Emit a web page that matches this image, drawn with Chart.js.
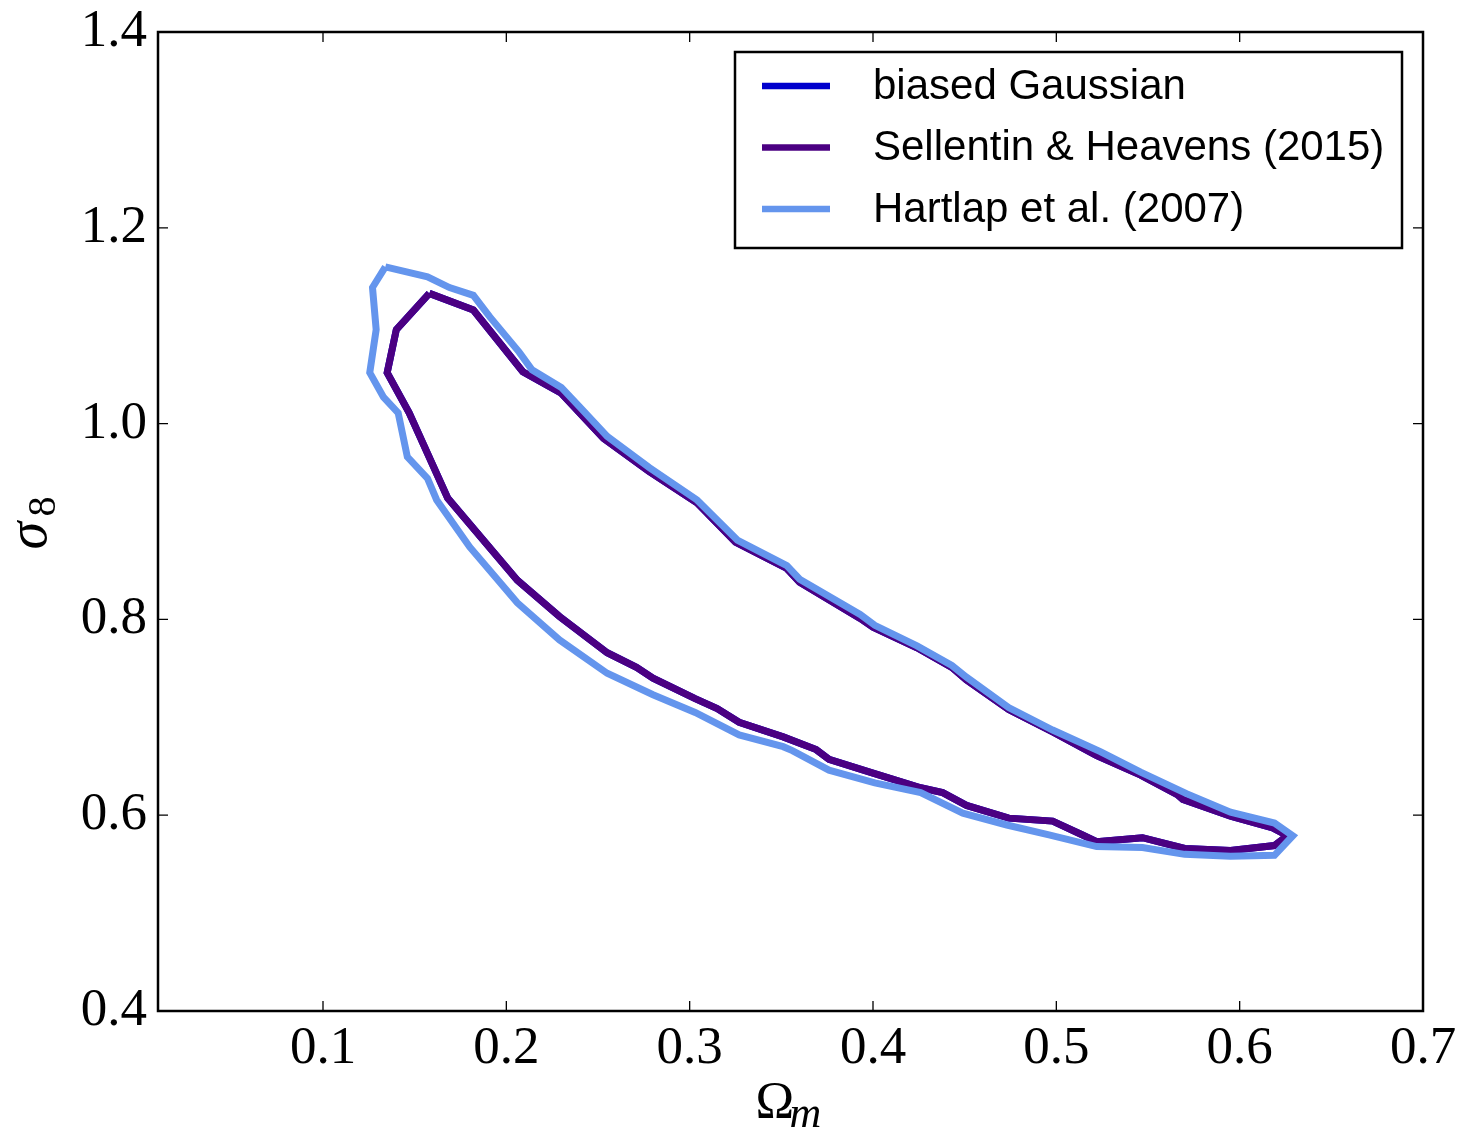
<!DOCTYPE html>
<html>
<head>
<meta charset="utf-8">
<script src="https://cdn.jsdelivr.net/npm/chart.js@4.4.0/dist/chart.umd.min.js"></script>
<style>
  body { margin: 0; background: #fff; }
</style>
</head>
<body>
<canvas id="contourChart" width="1462" height="1132"></canvas>
<script>
// tick positions
const xTicks = [0.1, 0.2, 0.3, 0.4, 0.5, 0.6, 0.7];
const yTicks = [0.4, 0.6, 0.8, 1.0, 1.2, 1.4];

// Sellentin & Heavens (2015) contour
const sellentinX = [0.158, 0.182, 0.209, 0.230, 0.253, 0.278, 0.304, 0.325, 0.353, 0.360,
    0.393, 0.400, 0.424, 0.443, 0.451, 0.474, 0.498, 0.518, 0.522, 0.546,
    0.566, 0.569, 0.595, 0.618, 0.626, 0.619, 0.595, 0.570, 0.547, 0.522,
    0.514, 0.498, 0.474, 0.451, 0.438, 0.426, 0.400, 0.376, 0.369, 0.351,
    0.327, 0.315, 0.303, 0.280, 0.271, 0.255, 0.229, 0.206, 0.168, 0.147,
    0.135, 0.140, 0.158];
const sellentinY = [1.133, 1.116, 1.053, 1.031, 0.985, 0.951, 0.919, 0.879, 0.852, 0.838,
    0.801, 0.792, 0.771, 0.751, 0.738, 0.708, 0.685, 0.665, 0.661, 0.641,
    0.621, 0.616, 0.599, 0.587, 0.579, 0.569, 0.564, 0.566, 0.577, 0.573,
    0.580, 0.594, 0.597, 0.610, 0.623, 0.628, 0.643, 0.657, 0.667, 0.680,
    0.695, 0.709, 0.719, 0.740, 0.751, 0.766, 0.803, 0.840, 0.924, 1.011,
    1.052, 1.096, 1.133];

// biased Gaussian sits exactly under the Sellentin & Heavens line
const gaussX = sellentinX.slice();
const gaussY = sellentinY.slice();

// Hartlap et al. (2007) contour
const hartlapX = [0.134, 0.157, 0.169, 0.182, 0.191, 0.207, 0.214, 0.230, 0.240, 0.255,
    0.278, 0.304, 0.326, 0.353, 0.360, 0.393, 0.401, 0.424, 0.443, 0.451,
    0.474, 0.498, 0.524, 0.546, 0.571, 0.595, 0.619, 0.629, 0.619, 0.595,
    0.570, 0.547, 0.522, 0.496, 0.473, 0.449, 0.426, 0.401, 0.376, 0.356,
    0.351, 0.327, 0.303, 0.280, 0.255, 0.229, 0.206, 0.180, 0.162, 0.157,
    0.146, 0.141, 0.133, 0.1255, 0.129, 0.127, 0.134];
const hartlapY = [1.160, 1.150, 1.139, 1.131, 1.109, 1.073, 1.055, 1.037, 1.017, 0.987,
    0.955, 0.922, 0.881, 0.855, 0.841, 0.805, 0.794, 0.773, 0.753, 0.741,
    0.710, 0.687, 0.665, 0.644, 0.622, 0.603, 0.592, 0.579, 0.559, 0.558,
    0.560, 0.567, 0.568, 0.580, 0.590, 0.602, 0.623, 0.633, 0.646, 0.666,
    0.670, 0.682, 0.705, 0.723, 0.745, 0.779, 0.817, 0.874, 0.922, 0.944,
    0.966, 1.011, 1.027, 1.052, 1.096, 1.139, 1.160];

const labels = ['biased Gaussian', 'Sellentin & Heavens (2015)', 'Hartlap et al. (2007)'];
const colors = ['#0000cd', '#4b0082', '#6495ed'];

function toPoints(xs, ys) {
    return xs.map((x, i) => ({ x: x, y: ys[i] }));
}

const frameAndLegend = {
    id: 'frameAndLegend',
    afterDatasetsDraw(chart) {
        const ctx = chart.ctx;
        const a = chart.chartArea;
        const xs = chart.scales.x;
        const ys = chart.scales.y;
        ctx.save();

        // inward ticks on all four sides
        ctx.strokeStyle = '#000';
        ctx.lineWidth = 1.3;
        ctx.beginPath();
        xTicks.forEach(v => {
            const px = xs.getPixelForValue(v);
            ctx.moveTo(px, a.bottom); ctx.lineTo(px, a.bottom - 10);
            ctx.moveTo(px, a.top); ctx.lineTo(px, a.top + 10);
        });
        yTicks.forEach(v => {
            const py = ys.getPixelForValue(v);
            ctx.moveTo(a.left, py); ctx.lineTo(a.left + 10, py);
            ctx.moveTo(a.right, py); ctx.lineTo(a.right - 10, py);
        });
        ctx.stroke();

        ctx.lineWidth = 2.5;
        ctx.strokeRect(a.left, a.top, a.right - a.left, a.bottom - a.top);

        // legend box
        const bx = a.right - 21 - 667, by = a.top + 20;
        ctx.fillStyle = '#fff';
        ctx.fillRect(bx, by, 667, 196);
        ctx.strokeRect(bx, by, 667, 196);
        ctx.font = '42px "Liberation Sans", Arial, sans-serif';
        ctx.textBaseline = 'middle';
        labels.forEach((lab, i) => {
            const ly = by + 34 + i * 61.5;
            ctx.strokeStyle = colors[i];
            ctx.lineWidth = 6.5;
            ctx.beginPath();
            ctx.moveTo(bx + 27, ly);
            ctx.lineTo(bx + 95, ly);
            ctx.stroke();
            ctx.fillStyle = '#000';
            ctx.fillText(lab, bx + 138, ly + 1);
        });

        // axis titles with subscripts
        ctx.fillStyle = '#000';
        ctx.textBaseline = 'alphabetic';
        const cx = (a.left + a.right) / 2;
        ctx.font = '52px "Liberation Serif", serif';
        ctx.fillText('\u03A9', cx - 35, 1118);
        ctx.font = 'italic 44px "Liberation Serif", serif';
        ctx.fillText('m', cx - 1, 1127);

        const cy = (a.top + a.bottom) / 2;
        ctx.translate(46, cy);
        ctx.rotate(-Math.PI / 2);
        ctx.font = 'italic 56px "Liberation Serif", serif';
        ctx.fillText('\u03C3', -28, 0);
        ctx.font = '40px "Liberation Serif", serif';
        ctx.fillText('8', 5, 9);
        ctx.restore();
    }
};

const tickFont = { family: '"Liberation Serif", "Times New Roman", serif', size: 53, lineHeight: 1.09 };

new Chart(document.getElementById('contourChart'), {
    type: 'scatter',
    data: {
        datasets: [
            { label: labels[0], data: toPoints(gaussX, gaussY), borderColor: colors[0], order: 3 },
            { label: labels[1], data: toPoints(sellentinX, sellentinY), borderColor: colors[1], order: 2 },
            { label: labels[2], data: toPoints(hartlapX, hartlapY), borderColor: colors[2], order: 1 }
        ].map(d => Object.assign(d, {
            showLine: true, borderWidth: 7, pointRadius: 0, pointHoverRadius: 0,
            tension: 0, fill: false, borderJoinStyle: 'miter', backgroundColor: d.borderColor
        }))
    },
    options: {
        responsive: false,
        devicePixelRatio: 1,
        animation: false,
        layout: { padding: { top: 32, right: 39, left: 0, bottom: 0 } },
        plugins: { legend: { display: false }, tooltip: { enabled: false } },
        scales: {
            x: {
                type: 'linear', min: 0.01, max: 0.7,
                grid: { display: false }, border: { display: false },
                afterBuildTicks: s => { s.ticks = xTicks.map(v => ({ value: v })); },
                afterFit: s => { s.height = 121; },
                ticks: { color: '#000', font: tickFont, padding: 1, maxRotation: 0,
                    callback: v => v.toFixed(1) }
            },
            y: {
                type: 'linear', min: 0.4, max: 1.4,
                grid: { display: false }, border: { display: false },
                afterBuildTicks: s => { s.ticks = yTicks.map(v => ({ value: v })); },
                afterFit: s => { s.width = 158; },
                ticks: { color: '#000', font: tickFont, padding: 3,
                    callback: v => v.toFixed(1) }
            }
        }
    },
    plugins: [frameAndLegend]
});
</script>
</body>
</html>
